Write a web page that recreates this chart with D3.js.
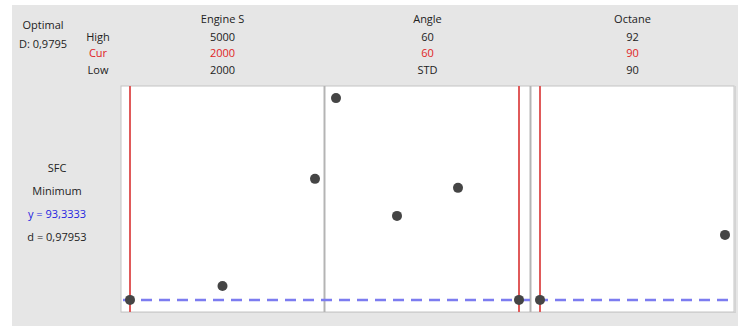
<!DOCTYPE html>
<html><head><meta charset="utf-8">
<script src="https://cdn.jsdelivr.net/npm/d3@7"></script>
<style>html,body{margin:0;padding:0;background:#fff;}svg{display:block;}text{font-family:"Open Sans","Noto Sans",sans-serif;font-size:11px;fill:#222;}</style>
</head><body>
<script>
const factors = ["Engine S", "Angle", "Octane"];
const highLabels = ["5000", "60", "92"];
const curLabels = ["2000", "60", "90"];
const lowLabels = ["2000", "STD", "90"];
const engineLevels = [2000, 3500, 5000];
const engineSFC = [93.3333, 94.73, 105.43];
const angleLevels = ["STD", "30", "45", "60"];
const angleSFC = [113.5, 101.73, 104.53, 93.3333];
const octaneLevels = [90, 92];
const octaneSFC = [93.3333, 99.83];
const currentSettings = [2000, "60", 90];
const optimalY = 93.3333;
const optimalText = ["Optimal", "D: 0,9795"];
const responseText = ["SFC", "Minimum", "y = 93,3333", "d = 0,97953"];

const W = 745, H = 326;
const svg = d3.select("body").append("svg").attr("width", W).attr("height", H);
svg.append("rect").attr("x", 12).attr("y", 5).attr("width", 726).attr("height", H - 5).attr("fill", "#e6e6e6");

const plotTop = 86, plotBottom = 312;
const panels = [
  {x0: 121, x1: 324, pad: 9, levels: engineLevels, vals: engineSFC, type: "linear"},
  {x0: 325, x1: 530, pad: 11, levels: angleLevels, vals: angleSFC, type: "point"},
  {x0: 531, x1: 734, pad: 9, levels: octaneLevels, vals: octaneSFC, type: "linear"}
];
panels.forEach(p => {
  p.scale = p.type === "linear"
    ? d3.scaleLinear().domain(d3.extent(p.levels)).range([p.x0 + p.pad, p.x1 - p.pad])
    : d3.scalePoint().domain(p.levels).range([p.x0 + p.pad, p.x1 - p.pad]);
});

const allVals = [].concat(engineSFC, angleSFC, octaneSFC);
const ext = d3.extent(allVals);
const padY = (ext[1] - ext[0]) * 0.06;
const y = d3.scaleLinear().domain([ext[0] - padY, ext[1] + padY]).range([plotBottom, plotTop]);

// plot area
svg.append("rect").attr("x", 121).attr("y", plotTop).attr("width", 613).attr("height", plotBottom - plotTop)
  .attr("fill", "#fff").attr("stroke", "#c4c4c4").attr("stroke-width", 1);
svg.append("line").attr("x1", 735.5).attr("x2", 735.5).attr("y1", plotTop).attr("y2", plotBottom + 1).attr("stroke", "#d4d4d4");
svg.append("line").attr("x1", 121).attr("x2", 735.5).attr("y1", plotBottom + 0.5).attr("y2", plotBottom + 0.5).attr("stroke", "#d0d0d0");

// separators
[324.5, 530.5].forEach(x => svg.append("line").attr("x1", x).attr("x2", x).attr("y1", plotTop).attr("y2", plotBottom)
  .attr("stroke", "#b4b4b4").attr("stroke-width", 2));

// current setting red lines
panels.forEach((p, i) => {
  const cx = p.scale(currentSettings[i]);
  svg.append("line").attr("x1", cx).attr("x2", cx).attr("y1", plotTop).attr("y2", plotBottom)
    .attr("stroke", "#e05a5a").attr("stroke-width", 2);
});

// optimal response dashed line
svg.append("line").attr("x1", 121).attr("x2", 734).attr("y1", y(optimalY)).attr("y2", y(optimalY))
  .attr("stroke", "#7c7cf0").attr("stroke-width", 2.5).attr("stroke-dasharray", "11,7").attr("stroke-dashoffset", -2);

// points
panels.forEach(p => {
  svg.append("g").selectAll("circle").data(p.levels).join("circle")
    .attr("cx", d => p.scale(d)).attr("cy", (d, i) => y(p.vals[i])).attr("r", 5).attr("fill", "#454545");
});

// header
const centers = panels.map(p => (p.x0 + p.x1) / 2);
const g = svg.append("g").attr("text-anchor", "middle");
factors.forEach((f, i) => {
  g.append("text").attr("x", centers[i]).attr("y", 23).text(f);
  g.append("text").attr("x", centers[i]).attr("y", 41).text(highLabels[i]);
  g.append("text").attr("x", centers[i]).attr("y", 57).style("fill", "#e02424").text(curLabels[i]);
  g.append("text").attr("x", centers[i]).attr("y", 74).text(lowLabels[i]);
});
g.append("text").attr("x", 98).attr("y", 41).text("High");
g.append("text").attr("x", 98).attr("y", 57).style("fill", "#e02424").text("Cur");
g.append("text").attr("x", 98).attr("y", 74).text("Low");
g.append("text").attr("x", 43).attr("y", 29).text(optimalText[0]);
g.append("text").attr("x", 43).attr("y", 48).text(optimalText[1]);

const ry = [172, 195, 218, 241];
responseText.forEach((t, i) => {
  g.append("text").attr("x", 57).attr("y", ry[i]).style("fill", i === 2 ? "#2424e0" : "#222").text(t);
});
</script>
</body></html>
